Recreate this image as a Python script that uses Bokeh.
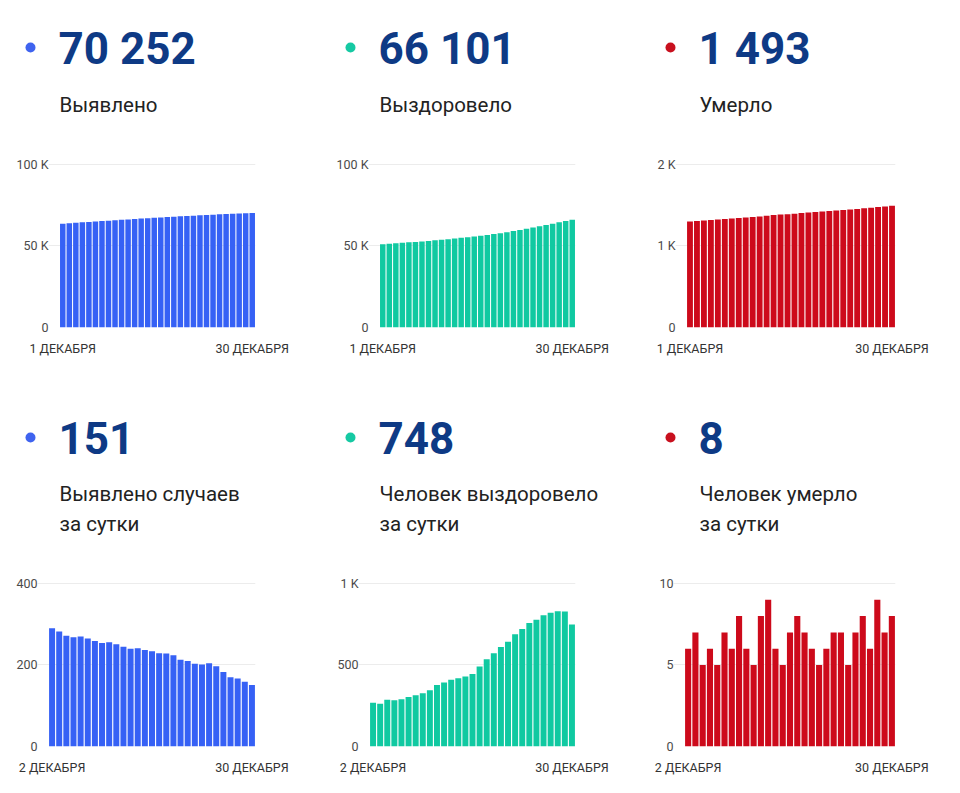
from bokeh.plotting import figure
from bokeh.models import Range1d, FixedTicker
from bokeh.layouts import column, row
from bokeh.core.properties import value
from bokeh.embed import file_html
from bokeh.resources import INLINE

# ---------------- data ----------------
total_cases = [63649, 63939, 64221, 64493, 64761, 65031, 65296, 65555, 65809, 66065,
               66316, 66561, 66801, 67042, 67279, 67513, 67742, 67970, 68194, 68407,
               68617, 68820, 69021, 69225, 69422, 69605, 69775, 69942, 70101, 70252]
total_recovered = [51123, 51391, 51653, 51940, 52223, 52513, 52816, 53131, 53458, 53803,
                   54181, 54574, 54984, 55402, 55832, 56277, 56767, 57302, 57874, 58484,
                   59127, 59815, 60535, 61292, 62070, 62875, 63695, 64525, 65353, 66101]
total_deaths = [1301, 1307, 1314, 1319, 1325, 1330, 1337, 1343, 1351, 1357,
                1362, 1370, 1379, 1385, 1390, 1397, 1405, 1412, 1418, 1423,
                1429, 1436, 1443, 1448, 1455, 1463, 1469, 1478, 1485, 1493]
daily_cases = [290, 282, 272, 268, 270, 265, 259, 254, 256, 251, 245, 240, 241, 237, 234,
               229, 228, 224, 213, 210, 203, 201, 204, 197, 183, 170, 167, 159, 151]
daily_recovered = [268, 262, 287, 283, 290, 303, 315, 327, 345, 378, 393, 410, 418, 430, 445,
                   490, 535, 572, 610, 643, 688, 720, 757, 778, 805, 820, 830, 828, 748]
daily_deaths = [6, 7, 5, 6, 5, 7, 6, 8, 6, 5, 8, 9, 6, 5, 7, 8, 7, 6, 5, 6, 7, 7, 5, 7, 8, 6, 9, 7, 8]

top_first_label, top_last_label = "1 ДЕКАБРЯ", "30 ДЕКАБРЯ"
bot_first_label, bot_last_label = "2 ДЕКАБРЯ", "30 ДЕКАБРЯ"

big_numbers = ["70 252", "66 101", "1 493", "151", "748", "8"]
captions = [["Выявлено"], ["Выздоровело"], ["Умерло"],
            ["Выявлено случаев", "за сутки"], ["Человек выздоровело", "за сутки"],
            ["Человек умерло", "за сутки"]]

y_ticks = [[0, 50000, 100000], [0, 50000, 100000], [0, 1000, 2000],
           [0, 200, 400], [0, 500, 1000], [0, 5, 10]]
y_tick_labels = [["0", "50 K", "100 K"], ["0", "50 K", "100 K"], ["0", "1 K", "2 K"],
                 ["0", "200", "400"], ["0", "500", "1 K"], ["0", "5", "10"]]

BLUE, GREEN, RED = "#3661f5", "#10c9a1", "#cd0a1b"
DOT_BLUE, DOT_GREEN, DOT_RED = "#3f63ef", "#16c9a3", "#c8101e"
NAVY = "#0e3a85"
FONT = "Roboto"

series = [total_cases, total_recovered, total_deaths, daily_cases, daily_recovered, daily_deaths]
colors = [BLUE, GREEN, RED, BLUE, GREEN, RED]
dot_colors = [DOT_BLUE, DOT_GREEN, DOT_RED, DOT_BLUE, DOT_GREEN, DOT_RED]

# ---------------- layout geometry (pixels) ----------------
TOTAL_W = 950
fig_widths = [320, 320, 310]
header_h = [140, 180]
chart_h = [240, 225]
frame_tb = [(23, 187), (22, 186)]          # frame top / bottom inside chart figure
frame_lefts = [[48, 48, 35], [37, 38, 33]]
FRAME_RIGHT = 255
PAD = 11

NUM_FS = 44
CAP_FS = 20.5
BASE_SHIFT = 0.36   # empirical baseline correction (fraction of font size)

# header positions (relative to header figure top): desired baselines
dot_y = [47, 57]
num_base = [64, 73]
cap_bases = [[112], [121, 151]]


def make_header(r):
    hh = header_h[r]
    h = figure(width=TOTAL_W, height=hh, output_backend="svg", toolbar_location=None,
               x_range=Range1d(0, TOTAL_W), y_range=Range1d(0, hh),
               min_border=0, min_border_left=0, min_border_right=0,
               min_border_top=0, min_border_bottom=0)
    h.axis.visible = False
    h.grid.visible = False
    h.outline_line_color = None
    for c in range(3):
        i = r * 3 + c
        cx = 320 * c
        h.scatter(x=[cx + 30], y=[hh - dot_y[r]], size=10, marker="circle",
                  fill_color=dot_colors[i], line_color=None)
        h.text(x=[cx + 58], y=[hh - (num_base[r] - BASE_SHIFT * NUM_FS)], text=[big_numbers[i]],
               text_font=value(FONT), text_font_style="bold", text_font_size=f"{NUM_FS}px",
               text_color=NAVY, text_align="left", text_baseline="alphabetic")
        for line, b in zip(captions[i], cap_bases[r]):
            h.text(x=[cx + 59], y=[hh - (b - BASE_SHIFT * CAP_FS)], text=[line],
                   text_font=value(FONT), text_font_size=f"{CAP_FS}px",
                   text_color="#222222", text_align="left", text_baseline="alphabetic")
    return h


def make_chart(i):
    r, c = divmod(i, 3)
    W, H = fig_widths[c], chart_h[r]
    ftop, fbot = frame_tb[r]
    fl = frame_lefts[r][c]
    vals = series[i]
    n = len(vals)
    fw = FRAME_RIGHT - fl
    ppu = (fw - PAD) / n
    x0 = -0.5 - PAD / ppu
    ymax = y_ticks[i][-1]
    p = figure(width=W, height=H, output_backend="svg", toolbar_location=None,
               x_range=Range1d(x0, n - 0.5), y_range=Range1d(0, ymax * 1.006),
               min_border_left=fl, min_border_right=W - FRAME_RIGHT,
               min_border_top=ftop, min_border_bottom=H - fbot)
    p.outline_line_color = None
    p.xgrid.visible = False
    p.ygrid.grid_line_color = "#ececec"
    p.ygrid.ticker = FixedTicker(ticks=y_ticks[i])
    p.vbar(x=list(range(n)), top=vals, width=0.84, bottom=0,
           fill_color=colors[i], line_color=None)

    ya = p.yaxis[0]
    ya.ticker = FixedTicker(ticks=y_ticks[i])
    ya.major_label_overrides = {t: l for t, l in zip(y_ticks[i], y_tick_labels[i])}
    ya.axis_line_color = None
    ya.major_tick_line_color = None
    ya.minor_tick_line_color = None
    ya.major_tick_out = 0
    ya.major_tick_in = 0
    ya.major_label_standoff = 0
    ya.major_label_text_font = FONT
    ya.major_label_text_font_size = "12.5px"
    ya.major_label_text_color = "#4a4a4a"

    xa = p.xaxis[0]
    xa.ticker = FixedTicker(ticks=[0, n - 1])
    first, last = (top_first_label, top_last_label) if r == 0 else (bot_first_label, bot_last_label)
    xa.major_label_overrides = {0: first, n - 1: last}
    xa.axis_line_color = None
    xa.major_tick_line_color = None
    xa.minor_tick_line_color = None
    xa.major_label_standoff = 7
    xa.major_label_text_font = FONT
    xa.major_label_text_font_size = "12.5px"
    xa.major_label_text_color = "#333333"
    return p


charts = [make_chart(i) for i in range(6)]
page = column(
    make_header(0),
    row(*charts[:3]),
    make_header(1),
    row(*charts[3:]),
)

open("out.html", "w").write(file_html(page, INLINE))
